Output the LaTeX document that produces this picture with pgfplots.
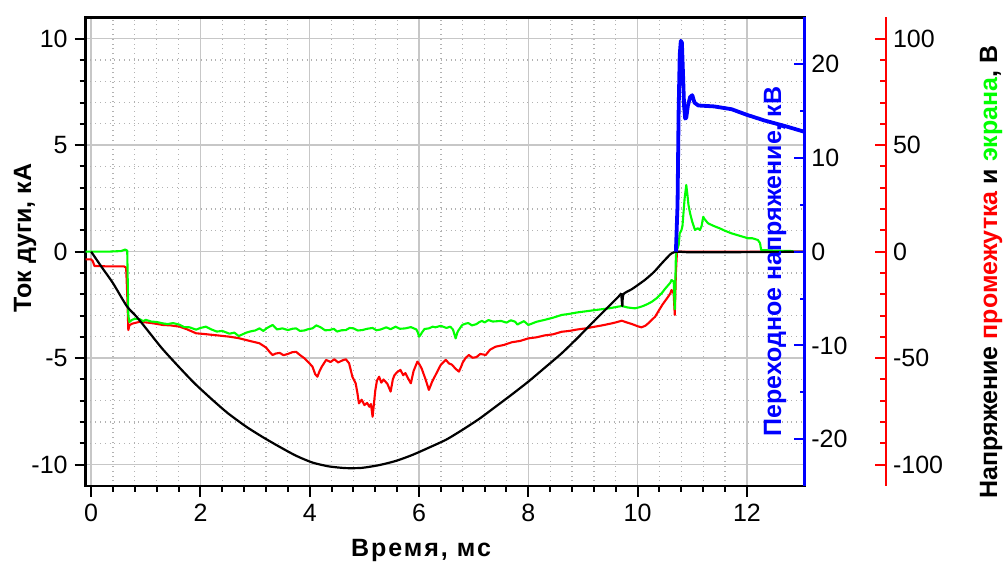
\documentclass[border=0pt]{standalone}
\usepackage{pgfplots}
\pgfplotsset{compat=1.18}
\usepackage{fontspec}
\setmainfont{Liberation Sans}
\begin{document}
\begin{tikzpicture}
\pgfplotsset{
  common/.style={scale only axis, width=359.3pt, height=234.3pt, xmin=-0.1, xmax=13.05,
    /pgf/number format/assume math mode=true,
    ticklabel style={font=\fontsize{12.5}{14}\selectfont}},
}
% main axis
\begin{axis}[common, ymin=-11, ymax=11,
  xtick={0,2,...,12}, ytick={-10,-5,...,10},
  minor x tick num=4, minor y tick num=4,
  grid=both,
  major grid style={draw=black!22, line width=0.7pt},
  minor grid style={draw=black!30, dotted, line width=0.6pt},
  axis line style={line width=1.3pt},
  tick align=outside, xtick pos=bottom, ytick pos=left,
  major tick length=5.5pt, minor tick length=3pt,
  tick style={black, line width=1pt},
]
\addplot[draw=none] coordinates {(0,0)};
\end{axis}
% red and green voltages, V
\begin{axis}[common, ymin=-110, ymax=110, hide axis]
\addplot[red, line width=1.05pt, line join=round] coordinates {
(-0.1,-3.6) (0.0,-3.6) (0.03,-4.5) (0.06,-6.7) (0.3,-6.9) (0.6,-6.9) (0.64,-7.5) (0.66,-20) (0.68,-36.8) (0.70,-34.5) (0.75,-33.8) (0.89,-32.9) (1.0,-33.2) (1.1,-33.5) (1.2,-33.9) (1.31,-34.4) (1.45,-34.6) (1.62,-35.2) (1.75,-36.4) (1.92,-38.3) (2.05,-38.6) (2.2,-39) (2.35,-39.4) (2.53,-39.9) (2.7,-40.6) (2.84,-41.5) (2.95,-42.2) (3.08,-43) (3.2,-45) (3.28,-47.5) (3.32,-48.5) (3.38,-47.8) (3.45,-47.5) (3.52,-48.6) (3.6,-48) (3.68,-47.2) (3.75,-47) (3.82,-48.5) (3.9,-50) (3.98,-52) (4.05,-54) (4.1,-57.5) (4.14,-58.7) (4.18,-56) (4.22,-54) (4.3,-50.8) (4.38,-51.8) (4.45,-50.5) (4.52,-52) (4.6,-51) (4.66,-50.5) (4.72,-52.4) (4.78,-58.7) (4.84,-61.8) (4.87,-66) (4.90,-71.2) (4.95,-69.5) (5.0,-72) (5.05,-71) (5.09,-72.8) (5.12,-71.5) (5.15,-77.5) (5.18,-70) (5.2,-65) (5.23,-60.5) (5.27,-58.7) (5.31,-61.5) (5.35,-60) (5.42,-62) (5.48,-65.7) (5.52,-60) (5.55,-58) (5.6,-56.5) (5.66,-55.5) (5.71,-58) (5.75,-57) (5.8,-59.5) (5.85,-61.8) (5.9,-56) (5.97,-51.6) (6.01,-53) (6.05,-55) (6.12,-60) (6.18,-64.9) (6.24,-61) (6.3,-58) (6.4,-53) (6.49,-50.8) (6.55,-52.5) (6.6,-53) (6.67,-55) (6.73,-56.3) (6.77,-54) (6.8,-52) (6.85,-50) (6.91,-48.5) (6.98,-49.8) (7.05,-49.5) (7.12,-48) (7.22,-48.5) (7.3,-46) (7.40,-44.6) (7.55,-43.8) (7.7,-42.5) (7.85,-41.9) (8.0,-40.7) (8.15,-40.2) (8.3,-39.3) (8.45,-38.8) (8.61,-37.6) (8.75,-37.2) (8.9,-36.5) (9.05,-36.0) (9.22,-35.2) (9.35,-34.6) (9.5,-33.8) (9.6,-33.2) (9.71,-32.4) (9.8,-33.2) (9.9,-34) (10.0,-35) (10.07,-35.5) (10.14,-34.8) (10.2,-33.5) (10.32,-30.5) (10.45,-25) (10.52,-22.5) (10.56,-21.1) (10.6,-19.5) (10.62,-18) (10.65,-19) (10.66,-20) (10.68,-29.7) (10.70,-10) (10.72,0) (13.05,0)
};
\addplot[green, line width=1.05pt, line join=round] coordinates {
(-0.1,0) (0.3,0) (0.55,0.3) (0.62,1) (0.66,0.5) (0.68,-30) (0.70,-33) (0.75,-32) (0.8,-31.5) (0.89,-31.7) (0.95,-32.6) (1.0,-32) (1.1,-32.8) (1.2,-33) (1.3,-33.6) (1.4,-34) (1.5,-33.5) (1.62,-34.3) (1.7,-35.4) (1.8,-35.5) (1.92,-36.6) (2.0,-35.8) (2.1,-35.2) (2.2,-36.5) (2.3,-37.5) (2.4,-37.2) (2.53,-38.5) (2.62,-38.0) (2.7,-39.6) (2.78,-38.7) (2.84,-38) (2.92,-37.4) (3.0,-37) (3.08,-36) (3.15,-37.2) (3.22,-35.8) (3.32,-34.4) (3.4,-36.5) (3.5,-36.0) (3.6,-36.8) (3.68,-36.2) (3.75,-36) (3.82,-37.2) (3.9,-37) (3.97,-36.4) (4.05,-36) (4.12,-34.6) (4.2,-35.5) (4.28,-36.9) (4.36,-36.8) (4.44,-36.2) (4.5,-37.5) (4.58,-36.9) (4.66,-36.8) (4.73,-35.8) (4.8,-36) (4.88,-37) (4.96,-36.8) (5.05,-36.2) (5.15,-35.8) (5.22,-36.9) (5.3,-36.5) (5.4,-35.5) (5.48,-36.4) (5.57,-35.2) (5.65,-36.2) (5.75,-36) (5.85,-35.4) (5.95,-36.5) (5.98,-38) (6.0,-39.9) (6.03,-39) (6.05,-38) (6.1,-36.3) (6.18,-36) (6.25,-35.2) (6.3,-35.5) (6.4,-34.8) (6.5,-35.8) (6.57,-35.2) (6.62,-36.5) (6.65,-39) (6.67,-40.7) (6.7,-38) (6.72,-37) (6.79,-34.4) (6.85,-33.8) (6.9,-33.5) (6.97,-34.6) (7.05,-34) (7.1,-33.1) (7.15,-32.5) (7.2,-33.2) (7.27,-32.1) (7.35,-32.8) (7.5,-32.5) (7.6,-33.3) (7.68,-32.2) (7.76,-32.9) (7.8,-34.2) (7.85,-33.5) (7.92,-32.6) (8.0,-34.4) (8.15,-32.9) (8.3,-32) (8.45,-31) (8.61,-29.7) (8.75,-29.2) (8.9,-28.5) (9.05,-28.0) (9.22,-27.4) (9.35,-27.0) (9.5,-26.5) (9.6,-26.0) (9.71,-25.5) (9.82,-26.2) (9.95,-26.6) (10.03,-26.1) (10.1,-25.5) (10.18,-24.6) (10.26,-23.5) (10.35,-21.8) (10.44,-19.5) (10.5,-17.5) (10.55,-16) (10.6,-14.5) (10.62,-13.3) (10.66,-14) (10.68,-27) (10.70,-2) (10.72,0.8) (10.75,3) (10.77,8.6) (10.8,10) (10.82,12) (10.86,25) (10.89,31.3) (10.91,27) (10.93,22) (10.96,18) (11.0,14) (11.05,10.2) (11.1,11) (11.14,10.2) (11.17,12) (11.20,16.4) (11.22,15.5) (11.25,14.5) (11.29,13.3) (11.4,12) (11.5,11) (11.6,9.8) (11.72,8.6) (11.85,7.6) (12.02,6.3) (12.1,6.3) (12.2,5.5) (12.24,4) (12.26,0.8) (12.5,0.5) (12.81,0.3) (12.85,0.2)
};
\end{axis}
% arc current, kA
\begin{axis}[common, ymin=-11, ymax=11, hide axis]
\addplot[black, line width=1.1pt, smooth, tension=0.4, line join=round] coordinates {
(0,0) (0.2,-0.75) (0.4,-1.48) (0.65,-2.55) (0.83,-3.05) (1.01,-3.62) (1.3,-4.55) (1.62,-5.45) (1.9,-6.2) (2.23,-6.98) (2.5,-7.58) (2.84,-8.22) (3.15,-8.72) (3.44,-9.15) (3.75,-9.58) (4.05,-9.9) (4.35,-10.08) (4.66,-10.16) (4.95,-10.15) (5.27,-10.02) (5.58,-9.82) (5.88,-9.54) (6.18,-9.2) (6.5,-8.82) (6.79,-8.37) (7.1,-7.85) (7.40,-7.28) (7.7,-6.7) (8.0,-6.10) (8.3,-5.45) (8.61,-4.77) (8.9,-4.05) (9.22,-3.21) (9.45,-2.62) (9.65,-2.11) (9.70,-1.95)
};
\addplot[black, line width=1.1pt, smooth, tension=0.4, line join=round] coordinates {
(9.70,-1.95) (9.72,-2.55) (9.74,-2.0) (9.9,-1.75) (10.13,-1.33) (10.3,-0.95) (10.44,-0.55) (10.55,-0.25) (10.62,-0.08) (10.72,0) (11,-0.03) (12,-0.02) (13.05,0)
};
\end{axis}
% transient voltage, kV
\begin{axis}[common, ymin=-25, ymax=25,
  axis y line*=right, axis x line=none,
  ytick={-20,-10,...,20}, minor y tick num=1,
  tick align=inside,
  y axis line style={blue, line width=1.3pt},
  ytick style={blue, line width=1pt},
  major tick length=5.3pt, minor tick length=2.4pt,
]
\addplot[blue, line width=1.9pt, line join=round] coordinates {
(10.70,0) (10.73,5) (10.75,15) (10.77,21) (10.79,22.5) (10.81,22.3) (10.83,19) (10.85,15.5) (10.87,14.2) (10.89,14.3) (10.92,15.6) (10.96,16.5) (11.0,16.7) (11.04,15.9) (11.11,15.6) (11.4,15.5) (11.72,15.2) (12.0,14.6) (12.32,14.0) (12.7,13.4) (12.99,12.9) (13.05,12.8)
};
\end{axis}
% red voltage axis
\begin{axis}[scale only axis, width=359.3pt, height=234.3pt, at={(40.85pt,0pt)},
  xmin=0, xmax=1, ymin=-110, ymax=110,
  /pgf/number format/assume math mode=true,
  ticklabel style={font=\fontsize{12.5}{14}\selectfont},
  axis y line*=right, axis x line=none,
  ytick={-100,-50,...,100}, minor y tick num=4,
  tick align=inside,
  y axis line style={red, line width=1.1pt},
  ytick style={red, line width=1pt},
  major tick length=5.5pt, minor tick length=3pt,
]
\addplot[draw=none] coordinates {(0,0)};
\end{axis}
% labels
\node[rotate=90, font=\fontsize{12.5}{14}\selectfont\bfseries] at (-30.35pt,124pt) {Ток дуги, кА};
\node[font=\fontsize{12.5}{14}\selectfont\bfseries\addfontfeature{LetterSpace=8}] at (167.65pt,-32pt) {Время, мс};
\node[rotate=90, text=blue, font=\fontsize{12.5}{14}\selectfont\bfseries] at (344.65pt,112.25pt) {Переходное напряжение, кВ};
\node[rotate=90, font=\fontsize{12.5}{14}\selectfont\bfseries] at (452.65pt,107pt) {Напряжение \textcolor{red}{промежутка} и \textcolor{green}{экрана}, В};
\pgfresetboundingbox
\path (-42.85pt,-39.5pt) rectangle (459.65pt,243pt);
\end{tikzpicture}
\end{document}
